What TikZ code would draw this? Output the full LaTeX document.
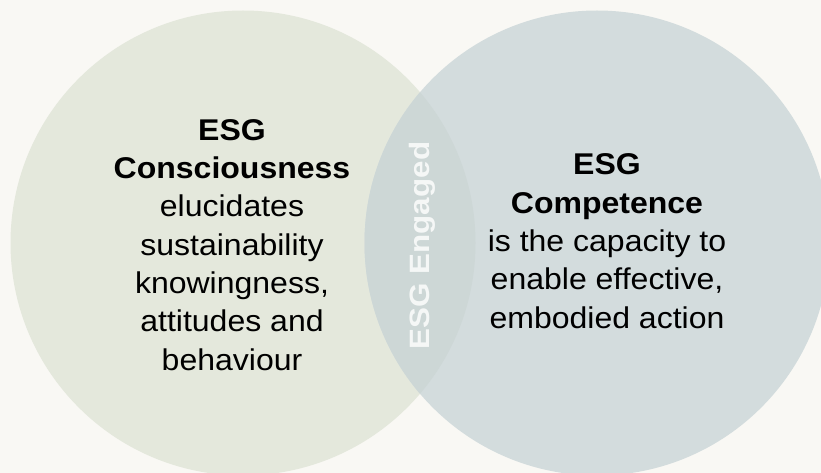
\documentclass[tikz,border=0pt]{standalone}
\usepackage{fontspec}
\setmainfont{Liberation Sans}[FakeStretch=1.067]
\newfontfamily\engagedfont{Liberation Sans}[FakeStretch=1.12]
\definecolor{pagebg}{HTML}{F9F8F4}
\definecolor{consc}{HTML}{E4E8DC}
\definecolor{compe}{HTML}{D3DCDD}
\definecolor{overlap}{HTML}{CDD7D6}
\begin{document}
\begin{tikzpicture}[x=1pt,y=-1pt,
  blocktext/.style={align=center, text=black, inner sep=0pt,
    font=\fontsize{30}{38.3}\selectfont},
  engaged/.style={text=white, opacity=0.8, inner sep=0pt, rotate=90,
    font=\engagedfont\fontsize{28}{34}\selectfont\bfseries}]
  % page
  \fill[pagebg] (0,0) rectangle (821,473);
  \useasboundingbox (0,0) rectangle (821,473);
  % the two sets
  \fill[consc] (243,243) circle[radius=232.5];
  \fill[compe] (597,243) circle[radius=232.5];
  \begin{scope}
    \clip (243,243) circle[radius=232.5];
    \fill[overlap] (597,243) circle[radius=232.5];
  \end{scope}
  % labels (base anchor = baseline of the last line)
  \node[blocktext, anchor=base] (consciousness) at (232,370)
    {\textbf{ESG}\\\textbf{Consciousness}\\elucidates\\sustainability\\knowingness,\\attitudes and\\behaviour};
  \node[blocktext, anchor=base] (competence) at (607,328)
    {\textbf{ESG}\\\textbf{Competence}\\is the capacity to\\enable effective,\\embodied action};
  \node[engaged] (engagedlabel) at (422,245.5) {ESG Engaged};
\end{tikzpicture}
\end{document}
